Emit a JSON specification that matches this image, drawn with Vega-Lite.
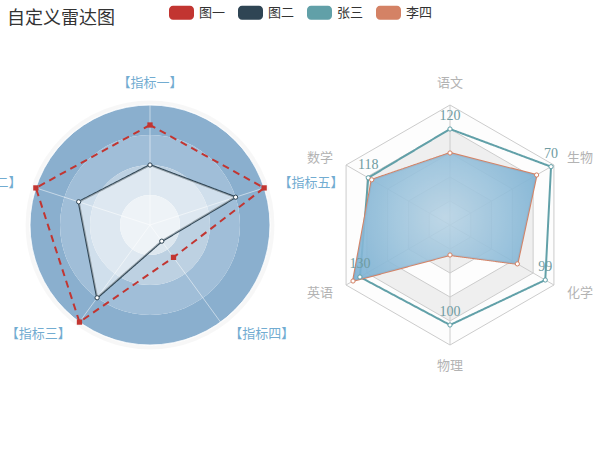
{
  "$schema": "https://vega.github.io/schema/vega-lite/v6.json",
  "width": 600,
  "height": 450,
  "padding": 0,
  "autosize": {"type": "none"},
  "background": "white",
  "config": {"view": {"stroke": null}, "font": "Noto Sans CJK SC"},
  "datasets": {
    "indicators": [
      {"radar": "left", "idx": 0, "n": 5, "name": "指标一", "min": 0, "max": 120},
      {"radar": "left", "idx": 1, "n": 5, "name": "指标二", "min": 0, "max": 8},
      {"radar": "left", "idx": 2, "n": 5, "name": "指标三", "min": 0, "max": 0.4},
      {"radar": "left", "idx": 3, "n": 5, "name": "指标四", "min": -120, "max": 0},
      {"radar": "left", "idx": 4, "n": 5, "name": "指标五", "min": 0, "max": 2000},
      {"radar": "right", "idx": 0, "n": 6, "name": "语文", "min": 0, "max": 150},
      {"radar": "right", "idx": 1, "n": 6, "name": "数学", "min": 0, "max": 150},
      {"radar": "right", "idx": 2, "n": 6, "name": "英语", "min": 0, "max": 150},
      {"radar": "right", "idx": 3, "n": 6, "name": "物理", "min": 0, "max": 120},
      {"radar": "right", "idx": 4, "n": 6, "name": "化学", "min": 0, "max": 108},
      {"radar": "right", "idx": 5, "n": 6, "name": "生物", "min": 0, "max": 72}
    ],
    "scores": [
      {"series": "图一", "indicator": "指标一", "value": 100},
      {"series": "图一", "indicator": "指标二", "value": 8},
      {"series": "图一", "indicator": "指标三", "value": 0.4},
      {"series": "图一", "indicator": "指标四", "value": -80},
      {"series": "图一", "indicator": "指标五", "value": 2000},
      {"series": "图二", "indicator": "指标一", "value": 60},
      {"series": "图二", "indicator": "指标二", "value": 5},
      {"series": "图二", "indicator": "指标三", "value": 0.3},
      {"series": "图二", "indicator": "指标四", "value": -100},
      {"series": "图二", "indicator": "指标五", "value": 1500},
      {"series": "张三", "indicator": "语文", "value": 120},
      {"series": "张三", "indicator": "数学", "value": 118},
      {"series": "张三", "indicator": "英语", "value": 130},
      {"series": "张三", "indicator": "物理", "value": 100},
      {"series": "张三", "indicator": "化学", "value": 99},
      {"series": "张三", "indicator": "生物", "value": 70},
      {"series": "李四", "indicator": "语文", "value": 90},
      {"series": "李四", "indicator": "数学", "value": 113},
      {"series": "李四", "indicator": "英语", "value": 140},
      {"series": "李四", "indicator": "物理", "value": 30},
      {"series": "李四", "indicator": "化学", "value": 70},
      {"series": "李四", "indicator": "生物", "value": 60}
    ],
    "leftSplits": [{"level": 4}, {"level": 3}, {"level": 2}, {"level": 1}],
    "rightSplits": [
      {"level": 5, "vertex": [0, 1, 2, 3, 4, 5]},
      {"level": 4, "vertex": [0, 1, 2, 3, 4, 5]},
      {"level": 3, "vertex": [0, 1, 2, 3, 4, 5]},
      {"level": 2, "vertex": [0, 1, 2, 3, 4, 5]},
      {"level": 1, "vertex": [0, 1, 2, 3, 4, 5]}
    ]
  },
  "layer": [
    {
      "data": {"name": "leftSplits"},
      "transform": [
        {"filter": "datum.level == 4"},
        {"calculate": "1.02", "as": "r1"},
        {"calculate": "-1.25", "as": "cx"},
        {"calculate": "0", "as": "cy"}
      ],
      "mark": {"type": "arc", "theta": 0, "theta2": 6.2832, "filled": false, "stroke": "#000000", "strokeOpacity": 0.03, "strokeWidth": 4},
      "encoding": {
        "x": {"field": "cx", "type": "quantitative", "scale": {"domain": [-2.5, 2.5], "nice": false, "zero": false}, "axis": null},
        "y": {"field": "cy", "type": "quantitative", "scale": {"domain": [-1.875, 1.875], "nice": false, "zero": false}, "axis": null},
        "radius": {"field": "r1", "type": "quantitative", "scale": {"type": "linear", "domain": [0, 1], "range": [0, 120], "zero": true}}
      }
    },
    {
      "data": {"name": "leftSplits"},
      "transform": [
        {"calculate": "datum.level/4", "as": "r1"},
        {"calculate": "(datum.level-1)/4", "as": "r0"},
        {"calculate": "-1.25", "as": "cx"},
        {"calculate": "0", "as": "cy"}
      ],
      "mark": {"type": "arc", "theta": 0, "theta2": 6.2832},
      "encoding": {
        "x": {"field": "cx", "type": "quantitative", "axis": null},
        "y": {"field": "cy", "type": "quantitative", "axis": null},
        "radius": {"field": "r1", "type": "quantitative"},
        "radius2": {"field": "r0"},
        "color": {"condition": [
          {"test": "datum.level == 4", "value": "#8aafce"},
          {"test": "datum.level == 3", "value": "#a0bed8"},
          {"test": "datum.level == 2", "value": "#bdd1e2"}
        ], "value": "#dde7ef"}
      }
    },
    {
      "data": {"name": "leftSplits"},
      "transform": [
        {"calculate": "datum.level/4", "as": "r1"},
        {"calculate": "-1.25", "as": "cx"},
        {"calculate": "0", "as": "cy"}
      ],
      "mark": {"type": "arc", "theta": 0, "theta2": 6.2832, "filled": false, "stroke": "white", "strokeOpacity": 0.5, "strokeWidth": 1},
      "encoding": {
        "x": {"field": "cx", "type": "quantitative", "axis": null},
        "y": {"field": "cy", "type": "quantitative", "axis": null},
        "radius": {"field": "r1", "type": "quantitative"}
      }
    },
    {
      "data": {"name": "indicators"},
      "transform": [
        {"calculate": "PI/2 + 2*PI*datum.idx/datum.n", "as": "angle"},
        {"calculate": "datum.radar == 'left' ? -1.25 : 1.25", "as": "cx"},
        {"calculate": "0", "as": "cy"},
        {"calculate": "datum.cx + cos(datum.angle)", "as": "ex"},
        {"calculate": "sin(datum.angle)", "as": "ey"}
      ],
      "mark": {"type": "rule", "strokeWidth": 1},
      "encoding": {
        "x": {"field": "cx", "type": "quantitative", "axis": null},
        "y": {"field": "cy", "type": "quantitative", "axis": null},
        "x2": {"field": "ex"},
        "y2": {"field": "ey"},
        "color": {"condition": {"test": "datum.radar == 'left'", "value": "rgba(255,255,255,0.5)"}, "value": "#cccccc"}
      }
    },
    {
      "data": {"name": "rightSplits"},
      "transform": [
        {"flatten": ["vertex"]},
        {"calculate": "PI/2 + 2*PI*datum.vertex/6", "as": "angle"},
        {"calculate": "datum.level/5", "as": "r"},
        {"calculate": "1.25 + datum.r*cos(datum.angle)", "as": "px"},
        {"calculate": "datum.r*sin(datum.angle)", "as": "py"},
        {"calculate": "datum.level % 2 == 0 ? 'dark' : 'light'", "as": "band"}
      ],
      "mark": {"type": "line", "interpolate": "linear-closed", "stroke": "#cccccc", "strokeWidth": 1},
      "encoding": {
        "x": {"field": "px", "type": "quantitative", "axis": null},
        "y": {"field": "py", "type": "quantitative", "axis": null},
        "detail": {"field": "level"},
        "order": {"field": "vertex"},
        "fill": {"field": "band", "type": "nominal", "scale": {"domain": ["dark", "light"], "range": ["#efefef", "#fdfdfd"]}, "legend": null}
      }
    },
    {
      "data": {"name": "indicators"},
      "transform": [
        {"filter": "datum.radar == 'right'"},
        {"calculate": "PI/2 + 2*PI*datum.idx/datum.n", "as": "angle"},
        {"calculate": "1.25", "as": "cx"},
        {"calculate": "0", "as": "cy"},
        {"calculate": "datum.cx + cos(datum.angle)", "as": "ex"},
        {"calculate": "sin(datum.angle)", "as": "ey"}
      ],
      "mark": {"type": "rule", "strokeWidth": 1, "color": "#cccccc"},
      "encoding": {
        "x": {"field": "cx", "type": "quantitative", "axis": null},
        "y": {"field": "cy", "type": "quantitative", "axis": null},
        "x2": {"field": "ex"},
        "y2": {"field": "ey"}
      }
    },
    {
      "data": {"name": "scores"},
      "transform": [
        {"lookup": "indicator", "from": {"data": {"name": "indicators"}, "key": "name", "fields": ["radar", "idx", "n", "min", "max"]}},
        {"calculate": "PI/2 + 2*PI*datum.idx/datum.n", "as": "angle"},
        {"calculate": "(datum.value - datum.min)/(datum.max - datum.min)", "as": "r"},
        {"calculate": "(datum.radar == 'left' ? -1.25 : 1.25) + datum.r*cos(datum.angle)", "as": "px"},
        {"calculate": "datum.r*sin(datum.angle)", "as": "py"}
      ],
      "mark": {"type": "line", "interpolate": "linear-closed", "strokeWidth": 2},
      "encoding": {
        "x": {"field": "px", "type": "quantitative", "axis": null},
        "y": {"field": "py", "type": "quantitative", "axis": null},
        "detail": {"field": "series"},
        "order": {"field": "idx"},
        "stroke": {"condition": [
          {"test": "datum.series == '图一'", "value": "#c23531"},
          {"test": "datum.series == '图二'", "value": "#2f4554"},
          {"test": "datum.series == '张三'", "value": "#61a0a8"}
        ], "value": "#d48265"},
        "strokeDash": {"condition": {"test": "datum.series == '图一'", "value": [7, 5]}, "value": [1, 0]}
      }
    },
    {
      "data": {"name": "scores"},
      "transform": [
        {"filter": "datum.series == '图二'"},
        {"lookup": "indicator", "from": {"data": {"name": "indicators"}, "key": "name", "fields": ["radar", "idx", "n", "min", "max"]}},
        {"calculate": "PI/2 + 2*PI*datum.idx/datum.n", "as": "angle"},
        {"calculate": "(datum.value - datum.min)/(datum.max - datum.min)", "as": "r"},
        {"calculate": "-1.25 + datum.r*cos(datum.angle)", "as": "px"},
        {"calculate": "datum.r*sin(datum.angle)", "as": "py"}
      ],
      "mark": {"type": "line", "interpolate": "linear-closed", "fill": "white", "fillOpacity": 0.5, "strokeWidth": 0},
      "encoding": {
        "x": {"field": "px", "type": "quantitative", "axis": null},
        "y": {"field": "py", "type": "quantitative", "axis": null},
        "order": {"field": "idx"}
      }
    },
    {
      "data": {"name": "scores"},
      "transform": [
        {"filter": "datum.series == '李四'"},
        {"lookup": "indicator", "from": {"data": {"name": "indicators"}, "key": "name", "fields": ["radar", "idx", "n", "min", "max"]}},
        {"calculate": "PI/2 + 2*PI*datum.idx/datum.n", "as": "angle"},
        {"calculate": "(datum.value - datum.min)/(datum.max - datum.min)", "as": "r"},
        {"calculate": "1.25 + datum.r*cos(datum.angle)", "as": "px"},
        {"calculate": "datum.r*sin(datum.angle)", "as": "py"}
      ],
      "mark": {"type": "line", "interpolate": "linear-closed", "fillOpacity": 0.9, "strokeWidth": 0,
        "fill": {"gradient": "radial", "x1": 0.5, "y1": 0.5, "r1": 0, "x2": 0.5, "y2": 0.5, "r2": 0.65,
          "stops": [{"offset": 0, "color": "#B8D3E4"}, {"offset": 1, "color": "#72ACD1"}]}},
      "encoding": {
        "x": {"field": "px", "type": "quantitative", "axis": null},
        "y": {"field": "py", "type": "quantitative", "axis": null},
        "order": {"field": "idx"}
      }
    },
    {
      "data": {"name": "scores"},
      "transform": [
        {"filter": "datum.series != '图一'"},
        {"lookup": "indicator", "from": {"data": {"name": "indicators"}, "key": "name", "fields": ["radar", "idx", "n", "min", "max"]}},
        {"calculate": "PI/2 + 2*PI*datum.idx/datum.n", "as": "angle"},
        {"calculate": "(datum.value - datum.min)/(datum.max - datum.min)", "as": "r"},
        {"calculate": "(datum.radar == 'left' ? -1.25 : 1.25) + datum.r*cos(datum.angle)", "as": "px"},
        {"calculate": "datum.r*sin(datum.angle)", "as": "py"}
      ],
      "mark": {"type": "point", "shape": "circle", "filled": true, "fill": "white", "size": 18, "strokeWidth": 1, "opacity": 1},
      "encoding": {
        "x": {"field": "px", "type": "quantitative", "axis": null},
        "y": {"field": "py", "type": "quantitative", "axis": null},
        "stroke": {"condition": [
          {"test": "datum.series == '图二'", "value": "#2f4554"},
          {"test": "datum.series == '张三'", "value": "#61a0a8"}
        ], "value": "#d48265"}
      }
    },
    {
      "data": {"name": "scores"},
      "transform": [
        {"filter": "datum.series == '图一'"},
        {"lookup": "indicator", "from": {"data": {"name": "indicators"}, "key": "name", "fields": ["radar", "idx", "n", "min", "max"]}},
        {"calculate": "PI/2 + 2*PI*datum.idx/datum.n", "as": "angle"},
        {"calculate": "(datum.value - datum.min)/(datum.max - datum.min)", "as": "r"},
        {"calculate": "-1.25 + datum.r*cos(datum.angle)", "as": "px"},
        {"calculate": "datum.r*sin(datum.angle)", "as": "py"}
      ],
      "mark": {"type": "point", "shape": "square", "filled": true, "size": 28, "opacity": 1},
      "encoding": {
        "x": {"field": "px", "type": "quantitative", "axis": null},
        "y": {"field": "py", "type": "quantitative", "axis": null},
        "color": {"field": "series", "type": "nominal",
          "scale": {"domain": ["图一", "图二", "张三", "李四"], "range": ["#c23531", "#2f4554", "#61a0a8", "#d48265"]},
          "legend": {"orient": "none", "legendX": 7, "legendY": 0, "direction": "horizontal",
            "title": "自定义雷达图", "titleOrient": "left", "titleFontSize": 18, "titleFontWeight": "normal", "titleColor": "#333", "titleFont": "Noto Sans CJK SC", "titlePadding": 54, "titleBaseline": "top", "titleAnchor": "middle",
            "symbolType": "M-0.68,-0.56H0.68A0.32,0.32,0,0,1,1,-0.24V0.24A0.32,0.32,0,0,1,0.68,0.56H-0.68A0.32,0.32,0,0,1,-1,0.24V-0.24A0.32,0.32,0,0,1,-0.68,-0.56Z",
            "symbolSize": 625, "symbolStrokeWidth": 0, "symbolOpacity": 1, "labelFontSize": 13, "labelFont": "Noto Sans CJK SC", "labelColor": "#333", "labelOffset": 5, "columnPadding": 12, "padding": 0}}
      }
    },
    {
      "data": {"name": "scores"},
      "transform": [
        {"filter": "datum.series == '张三'"},
        {"lookup": "indicator", "from": {"data": {"name": "indicators"}, "key": "name", "fields": ["radar", "idx", "n", "min", "max"]}},
        {"calculate": "PI/2 + 2*PI*datum.idx/datum.n", "as": "angle"},
        {"calculate": "(datum.value - datum.min)/(datum.max - datum.min)", "as": "r"},
        {"calculate": "1.25 + datum.r*cos(datum.angle)", "as": "px"},
        {"calculate": "datum.r*sin(datum.angle)", "as": "py"}
      ],
      "mark": {"type": "text", "baseline": "bottom", "align": "center", "dy": -6, "font": "Liberation Serif", "fontSize": 14, "color": "#6f9ba1"},
      "encoding": {
        "x": {"field": "px", "type": "quantitative", "axis": null},
        "y": {"field": "py", "type": "quantitative", "axis": null},
        "text": {"field": "value", "type": "quantitative"}
      }
    },
    {
      "data": {"name": "indicators"},
      "transform": [
        {"calculate": "PI/2 + 2*PI*datum.idx/datum.n", "as": "angle"},
        {"filter": "cos(datum.angle) > 0.01"},
        {"calculate": "datum.radar == 'left' ? '【' + datum.name + '】' : datum.name", "as": "label"},
        {"calculate": "(datum.radar == 'left' ? -1.25 : 1.25) + 1.125*cos(datum.angle)", "as": "px"},
        {"calculate": "1.125*sin(datum.angle)", "as": "py"}
      ],
      "mark": {"type": "text", "align": "left", "baseline": "middle", "fontSize": 13, "font": "Noto Sans CJK SC"},
      "encoding": {
        "x": {"field": "px", "type": "quantitative", "axis": null},
        "y": {"field": "py", "type": "quantitative", "axis": null},
        "text": {"field": "label"},
        "color": {"condition": {"test": "datum.radar == 'left'", "value": "#72ACD1"}, "value": "#b3b3b3"}
      }
    },
    {
      "data": {"name": "indicators"},
      "transform": [
        {"calculate": "PI/2 + 2*PI*datum.idx/datum.n", "as": "angle"},
        {"filter": "cos(datum.angle) < -0.01"},
        {"calculate": "datum.radar == 'left' ? '【' + datum.name + '】' : datum.name", "as": "label"},
        {"calculate": "(datum.radar == 'left' ? -1.25 : 1.25) + 1.125*cos(datum.angle)", "as": "px"},
        {"calculate": "1.125*sin(datum.angle)", "as": "py"}
      ],
      "mark": {"type": "text", "align": "right", "baseline": "middle", "fontSize": 13, "font": "Noto Sans CJK SC"},
      "encoding": {
        "x": {"field": "px", "type": "quantitative", "axis": null},
        "y": {"field": "py", "type": "quantitative", "axis": null},
        "text": {"field": "label"},
        "color": {"condition": {"test": "datum.radar == 'left'", "value": "#72ACD1"}, "value": "#b3b3b3"}
      }
    },
    {
      "data": {"name": "indicators"},
      "transform": [
        {"calculate": "PI/2 + 2*PI*datum.idx/datum.n", "as": "angle"},
        {"filter": "abs(cos(datum.angle)) <= 0.01 && sin(datum.angle) > 0"},
        {"calculate": "datum.radar == 'left' ? '【' + datum.name + '】' : datum.name", "as": "label"},
        {"calculate": "(datum.radar == 'left' ? -1.25 : 1.25) + 1.125*cos(datum.angle)", "as": "px"},
        {"calculate": "1.125*sin(datum.angle)", "as": "py"}
      ],
      "mark": {"type": "text", "align": "center", "baseline": "bottom", "fontSize": 13, "font": "Noto Sans CJK SC"},
      "encoding": {
        "x": {"field": "px", "type": "quantitative", "axis": null},
        "y": {"field": "py", "type": "quantitative", "axis": null},
        "text": {"field": "label"},
        "color": {"condition": {"test": "datum.radar == 'left'", "value": "#72ACD1"}, "value": "#b3b3b3"}
      }
    },
    {
      "data": {"name": "indicators"},
      "transform": [
        {"calculate": "PI/2 + 2*PI*datum.idx/datum.n", "as": "angle"},
        {"filter": "abs(cos(datum.angle)) <= 0.01 && sin(datum.angle) < 0"},
        {"calculate": "datum.radar == 'left' ? '【' + datum.name + '】' : datum.name", "as": "label"},
        {"calculate": "(datum.radar == 'left' ? -1.25 : 1.25) + 1.125*cos(datum.angle)", "as": "px"},
        {"calculate": "1.125*sin(datum.angle)", "as": "py"}
      ],
      "mark": {"type": "text", "align": "center", "baseline": "top", "fontSize": 13, "font": "Noto Sans CJK SC"},
      "encoding": {
        "x": {"field": "px", "type": "quantitative", "axis": null},
        "y": {"field": "py", "type": "quantitative", "axis": null},
        "text": {"field": "label"},
        "color": {"condition": {"test": "datum.radar == 'left'", "value": "#72ACD1"}, "value": "#b3b3b3"}
      }
    }
  ]
}
